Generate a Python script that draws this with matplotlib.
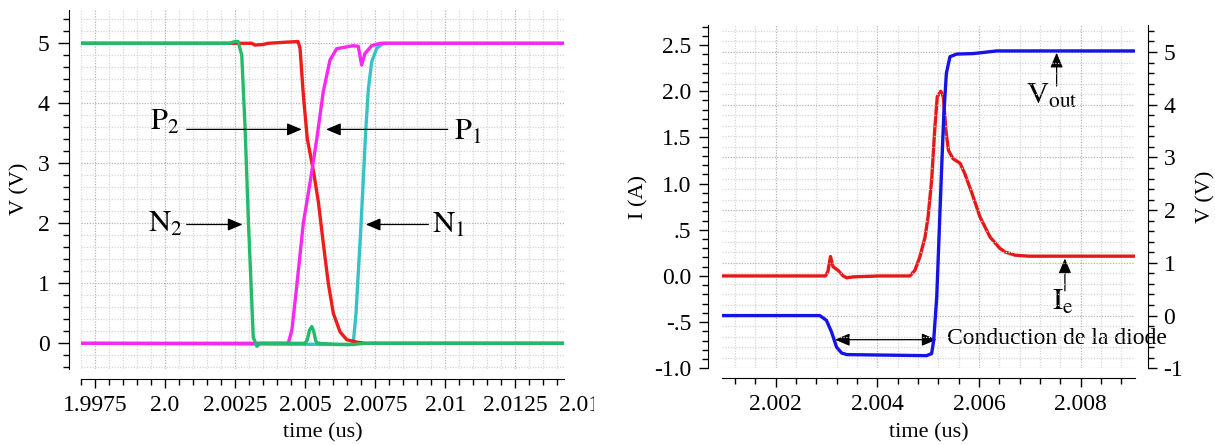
import matplotlib

matplotlib.use("Agg")

import matplotlib.pyplot as plt  # noqa: E402
from matplotlib.ticker import MultipleLocator  # noqa: E402
from matplotlib.transforms import Bbox, ScaledTranslation, TransformedBbox  # noqa: E402

plt.rcParams["font.family"] = ["Liberation Serif", "DejaVu Serif"]
plt.rcParams["mathtext.fontset"] = "stix"

# left panel: node voltages, time in us
n2_t = [1.997, 2.0023, 2.0025, 2.00261, 2.00274, 2.00286, 2.00298, 2.0031, 2.00315,
        2.00328, 2.00339, 2.0050, 2.00508, 2.00516, 2.00524, 2.00531, 2.00538, 2.00545,
        2.0062, 2.0067, 2.00715, 2.01426]
n2_v = [5.0, 5.0, 5.03, 5.03, 4.80, 3.57, 2.0, 0.67, 0.1,
        -0.05, 0.0, 0.0, 0.06, 0.22, 0.28, 0.2, 0.04, 0.0,
        -0.02, -0.02, 0.0, 0.0]

p2_t = [1.997, 2.0031, 2.00321, 2.0035, 2.00368, 2.00436, 2.00475, 2.00482, 2.00494,
        2.00508, 2.0053, 2.00548, 2.00565, 2.00583, 2.00601, 2.00625, 2.00649, 2.00685,
        2.00714, 2.01426]
p2_v = [5.0, 5.0, 4.97, 4.98, 5.0, 5.02, 5.03, 4.92, 4.13,
        3.41, 2.87, 2.34, 1.67, 1.0, 0.50, 0.19, 0.06, 0.02,
        0.0, 0.0]

p1_t = [1.997, 2.0044, 2.00453, 2.0047, 2.00494, 2.00518, 2.00542, 2.00565, 2.00589,
        2.00613, 2.00672, 2.0069, 2.00702, 2.00714, 2.00738, 2.00768, 2.01426]
p1_v = [0.0, 0.0, 0.22, 0.94, 2.01, 2.68, 3.41, 4.19, 4.72,
        4.91, 4.96, 4.95, 4.64, 4.83, 4.96, 5.0, 5.0]

n1_t = [1.997, 2.0066, 2.00672, 2.00682, 2.0069, 2.00699, 2.00708, 2.00717, 2.00726,
        2.00738, 2.00756, 2.0078, 2.01426]
n1_v = [0.0, -0.02, 0.0, 0.5, 1.17, 1.90, 2.73, 3.57, 4.24,
        4.69, 4.92, 5.0, 5.0]

# right panel: diode current and output voltage
ie_t = [2.00094, 2.00298, 2.00303, 2.00308, 2.00313, 2.00323, 2.00333, 2.0034, 2.00353,
        2.00405, 2.00464, 2.00474, 2.00484, 2.00494, 2.005, 2.00507, 2.00513, 2.00518,
        2.00525, 2.0053, 2.00535, 2.0054, 2.00549, 2.00563, 2.00572, 2.00586, 2.00602,
        2.00622, 2.00641, 2.00651, 2.00671, 2.00697, 2.00907]
ie_i = [0.0, 0.0, 0.05, 0.21, 0.10, 0.06, 0.0, -0.02, -0.01,
        0.0, 0.0, 0.06, 0.21, 0.42, 0.64, 1.04, 1.58, 1.94,
        2.0, 1.94, 1.58, 1.36, 1.27, 1.22, 1.11, 0.90, 0.64,
        0.42, 0.30, 0.26, 0.225, 0.214, 0.214]

vout_t = [2.00094, 2.00287, 2.003, 2.0031, 2.0032, 2.0033, 2.0034, 2.00497, 2.00507,
          2.00511, 2.00517, 2.00522, 2.00527, 2.00531, 2.00536, 2.00543, 2.00556, 2.00589,
          2.00635, 2.00907]
vout_v = [0.0, 0.0, -0.09, -0.31, -0.60, -0.71, -0.74, -0.76, -0.72,
          -0.47, 0.35, 1.62, 2.89, 3.84, 4.60, 4.91, 4.96, 4.97,
          5.02, 5.02]

left_xticks = [1.9975, 2.0, 2.0025, 2.005, 2.0075, 2.01, 2.0125]
left_xlabels = ["1.9975", "2.0", "2.0025", "2.005", "2.0075", "2.01", "2.0125"]
left_yticks = [0, 1, 2, 3, 4, 5]
right_xticks = [2.002, 2.004, 2.006, 2.008]
right_xlabels = ["2.002", "2.004", "2.006", "2.008"]
i_ticks = [-1.0, -0.5, 0.0, 0.5, 1.0, 1.5, 2.0, 2.5]
i_labels = ["-1.0", "-.5", "0.0", ".5", "1.0", "1.5", "2.0", "2.5"]
v_ticks = [-1, 0, 1, 2, 3, 4, 5]
v_labels = ["-1", "0", "1", "2", "3", "4", "5"]

W, H = 1215, 445
TICK_FS = 17
LABEL_FS = 16
NOTE_FS = 22
MINOR_GRID = dict(color="#d6d6d6", linestyle=(0, (1, 1.2)), linewidth=0.9)
MAJOR_GRID = dict(color="#b4b4b4", linestyle=(0, (1, 1.2)), linewidth=0.9)
ARROW = dict(arrowstyle="-|>,head_length=9,head_width=3.8", mutation_scale=1,
             color="black", lw=0.9, shrinkA=0, shrinkB=0)
DARROW = dict(arrowstyle="<|-|>,head_length=9,head_width=3.8", mutation_scale=1,
              color="black", lw=0.9, shrinkA=0, shrinkB=0)


def px_axes(x0, y0, x1, y1):
    return [x0 / W, 1 - y1 / H, (x1 - x0) / W, (y1 - y0) / H]


def style_ticks(ax, ylen=6.5):
    ax.tick_params(axis="both", which="both", direction="out", width=1.0, colors="black",
                   labelsize=TICK_FS)
    ax.tick_params(axis="x", which="major", length=6.5, pad=5)
    ax.tick_params(axis="x", which="minor", length=4.5)
    ax.tick_params(axis="y", which="major", length=ylen, pad=6)
    ax.tick_params(axis="y", which="minor", length=4.5)


fig = plt.figure(figsize=(W / 100, H / 100), dpi=100)

# ---------------- left panel ----------------
ax1 = fig.add_axes(px_axes(81, 10, 564.4, 368.5))
ax1.plot(n1_t, n1_v, color="#36c3c8", lw=2.4, zorder=2)
ax1.plot(p2_t, p2_v, color="#ee1c1c", lw=2.4, zorder=2)
ax1.plot(p1_t, p1_v, color="#f529f0", lw=2.4, zorder=3)
ax1.plot(n2_t, n2_v, color="#23bb69", lw=2.4, zorder=3)

ax1.set_xlim(1.997, 2.01426)
ax1.set_ylim(-0.42, 5.555)
ax1.set_xticks(left_xticks, left_xlabels)
ax1.set_yticks(left_yticks)
ax1.xaxis.set_minor_locator(MultipleLocator(0.0005))
ax1.yaxis.set_minor_locator(MultipleLocator(0.2))
for s in ("top", "right"):
    ax1.spines[s].set_visible(False)
ax1.spines["left"].set_position(("outward", 8.6))
ax1.spines["bottom"].set_position(("outward", 7.6))
style_ticks(ax1, ylen=8)
ax1.grid(which="minor", **MINOR_GRID)
ax1.grid(which="major", **MAJOR_GRID)
ax1.set_axisbelow(True)

ax1.set_xlabel("time (us)", fontsize=LABEL_FS)
ax1.xaxis.set_label_coords(0.5, (368.5 - 423) / 358.5)
ax1.set_ylabel("V (V)", fontsize=LABEL_FS)
ax1.yaxis.set_label_coords((19.4 - 81) / 483.4, 0.5)
ax1.yaxis.label.set_verticalalignment("center")

# tick label cut by the panel edge
cut = fig.text(2.015, 0, "2.015", fontsize=TICK_FS, ha="center", va="top",
               transform=ax1.get_xaxis_transform()
               + ScaledTranslation(0, -(7.6 + 6.5 + 5) / 72, fig.dpi_scale_trans))
cut.set_clip_box(TransformedBbox(Bbox([[0, 0], [594 / W, 1]]), fig.transFigure))
cut.set_clip_on(True)

ax1.annotate("", xy=(2.004882, 3.565), xytext=(2.000775, 3.565), arrowprops=ARROW)
ax1.annotate("", xy=(2.00575, 3.565), xytext=(2.010096, 3.565), arrowprops=ARROW)
ax1.annotate("", xy=(2.002768, 1.98), xytext=(2.000775, 1.98), arrowprops=ARROW)
ax1.annotate("", xy=(2.007168, 1.98), xytext=(2.009403, 1.98), arrowprops=ARROW)
ax1.text(1.99945, 3.555, r"$\mathrm{P}_2$", fontsize=NOTE_FS, va="baseline")
ax1.text(2.010303, 3.39, r"$\mathrm{P}_1$", fontsize=NOTE_FS, va="baseline")
ax1.text(1.99938, 1.86, r"$\mathrm{N}_2$", fontsize=NOTE_FS, va="baseline")
ax1.text(2.009542, 1.84, r"$\mathrm{N}_1$", fontsize=NOTE_FS, va="baseline")

# ---------------- right panel ----------------
ax2 = fig.add_axes(px_axes(721.7, 25, 1135, 368.3))
ax3 = ax2.twinx()
ax2.plot(ie_t, ie_i, color="#e81818", lw=2.4)
ax3.plot(vout_t, vout_v, color="#1414e6", lw=2.4)

ax2.set_xlim(2.00094, 2.00907)
ax2.set_ylim(-1.0, 2.717)
ax3.set_ylim(-1.0, 5.512)
ax2.set_xticks(right_xticks, right_xlabels)
ax2.set_yticks(i_ticks, i_labels)
ax3.set_yticks(v_ticks, v_labels)
ax2.xaxis.set_minor_locator(MultipleLocator(0.0004))
ax2.yaxis.set_minor_locator(MultipleLocator(0.1))
ax3.yaxis.set_minor_locator(MultipleLocator(0.2))
for s in ("top", "right"):
    ax2.spines[s].set_visible(False)
for s in ("top", "left", "bottom"):
    ax3.spines[s].set_visible(False)
ax2.spines["left"].set_position(("outward", 9.6))
ax2.spines["bottom"].set_position(("outward", 7.2))
ax3.spines["right"].set_position(("outward", 9.1))
style_ticks(ax2)
style_ticks(ax3)
ax3.tick_params(axis="y", which="major", pad=5)
ax2.grid(axis="x", which="minor", **MINOR_GRID)
ax2.grid(axis="x", which="major", **MAJOR_GRID)
ax3.grid(axis="y", which="minor", **MINOR_GRID)
ax3.grid(axis="y", which="major", **MAJOR_GRID)
ax2.set_axisbelow(True)
ax3.set_axisbelow(True)

ax2.set_xlabel("time (us)", fontsize=LABEL_FS)
ax2.xaxis.set_label_coords(0.5, (368.3 - 423) / 343.3)
ax2.set_ylabel("I (A)", fontsize=LABEL_FS)
ax2.yaxis.set_label_coords((638.7 - 721.7) / 413.3, 0.5)
ax2.yaxis.label.set_verticalalignment("center")
ax3.set_ylabel("V (V)", fontsize=LABEL_FS)
ax3.yaxis.set_label_coords((1206 - 721.7) / 413.3, 0.5)
ax3.yaxis.label.set_verticalalignment("center")

ax2.annotate("", xy=(2.003167, -0.69), xytext=(2.005167, -0.69), arrowprops=DARROW)
ax2.text(2.005376, -0.68, "Conduction de la diode", fontsize=17, va="center")
ax2.annotate("", xy=(2.007528, 2.417), xytext=(2.007528, 2.056), arrowprops=ARROW)
ax2.text(2.006924, 1.868, r"$\mathrm{V}_\mathrm{out}$", fontsize=NOTE_FS, va="baseline")
ax2.annotate("", xy=(2.007691, 0.189), xytext=(2.007691, -0.162), arrowprops=ARROW)
ax2.text(2.007429, -0.371, r"$\mathrm{I}_\mathrm{e}$", fontsize=NOTE_FS, va="baseline")

fig.savefig("out.png", dpi=100)
